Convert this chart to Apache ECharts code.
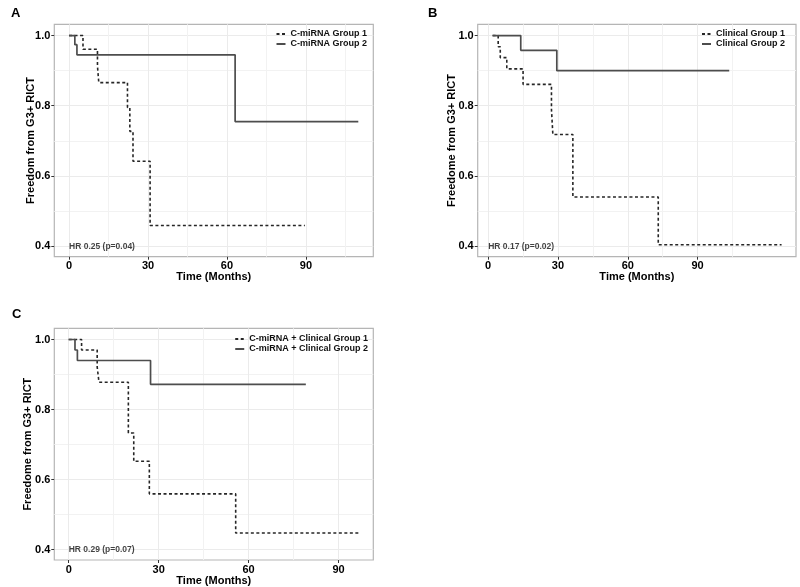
<!DOCTYPE html>
<html><head><meta charset="utf-8">
<script src="https://cdn.jsdelivr.net/npm/echarts@6/dist/echarts.min.js"></script>
<style>html,body{margin:0;padding:0;background:#fff}#c{width:800px;height:587px}</style>
</head><body><div id="c"></div>
<script>
// ---- data ----
const aG1Time = [0, 5.3, 10.8, 11.3, 22.2, 23.1, 24.3, 30.8, 89.6];
const aG1Surv = [1, 0.961, 0.913, 0.866, 0.795, 0.727, 0.642, 0.459, 0.459];
const aG2Time = [0, 2.2, 3.0, 63.1, 109.9];
const aG2Surv = [1, 0.974, 0.945, 0.755, 0.755];

const bG1Time = [1.9, 4.3, 5.2, 8.0, 15.0, 27.2, 27.8, 36.4, 73.1, 126.1];
const bG1Surv = [1, 0.968, 0.937, 0.905, 0.861, 0.79, 0.718, 0.54, 0.404, 0.404];
const bG2Time = [1.9, 14.0, 29.5, 103.6];
const bG2Surv = [1, 0.958, 0.90, 0.90];

const cG1Time = [0, 4.3, 9.5, 10.1, 19.9, 21.7, 26.9, 55.7, 96.8];
const cG1Surv = [1, 0.97, 0.922, 0.878, 0.733, 0.652, 0.559, 0.447, 0.447];
const cG2Time = [0, 2.1, 2.9, 27.3, 79.1];
const cG2Surv = [1, 0.97, 0.94, 0.872, 0.872];

const panelLabels = ['A', 'B', 'C'];
const seriesNames = [
  ['C-miRNA Group 1', 'C-miRNA Group 2'],
  ['Clinical Group 1', 'Clinical Group 2'],
  ['C-miRNA + Clinical Group 1', 'C-miRNA + Clinical Group 2']
];
const hrTexts = ['HR 0.25 (p=0.04)', 'HR 0.17 (p=0.02)', 'HR 0.29 (p=0.07)'];
const yNames = ['Freedom from G3+ RICT', 'Freedome from G3+ RICT', 'Freedome from G3+ RICT'];
const xName = 'Time (Months)';
const xTicks = [0, 30, 60, 90];
const xMinor = [15, 45, 75, 105];
const yTicks = [0.4, 0.6, 0.8, 1.0];
const yMinor = [0.5, 0.7, 0.9];

// ---- layout ----
const FONT = 'Liberation Sans, Arial, sans-serif';
const grids = [
  {left: 54.3, top: 24.3, width: 319, height: 232.4},
  {left: 477.7, top: 24.3, width: 318.3, height: 232.4},
  {left: 54.3, top: 328.3, width: 319, height: 232.4}
];
const xRanges = [[-5.6, 115.6], [-4.5, 132.3], [-4.8, 101.6]];
const yRange = [0.37, 1.032];
const yNameGaps = [18, 20, 21];
const legendPos = [
  {right: 433, top: 29.5},
  {right: 15, top: 29.5},
  {right: 432, top: 334.5}
];
const curves = [
  [[aG1Time, aG1Surv], [aG2Time, aG2Surv]],
  [[bG1Time, bG1Surv], [bG2Time, bG2Surv]],
  [[cG1Time, cG1Surv], [cG2Time, cG2Surv]]
];

const zip = (t, s) => t.map((v, i) => [v, s[i]]);

const option = {
  animation: false,
  backgroundColor: '#fff',
  textStyle: {fontFamily: FONT},
  grid: grids.map(g => Object.assign({show: true, borderColor: '#b5b5b5', borderWidth: 1.2, backgroundColor: 'transparent'}, g)),
  title: panelLabels.map((t, i) => ({
    text: t, left: [6, 423, 7][i], top: [2, 2, 303][i],
    textStyle: {fontSize: 13, fontWeight: 'bold', color: '#000', fontFamily: FONT}
  })),
  xAxis: [], yAxis: [], series: [], legend: []
};

for (let p = 0; p < 3; p++) {
  option.xAxis.push({
    type: 'value', gridIndex: p, min: xRanges[p][0], max: xRanges[p][1],
    name: xName, nameLocation: 'middle', nameGap: 15, nameMoveOverlap: false,
    nameTextStyle: {fontSize: 11, fontWeight: 'bold', color: '#000', fontFamily: FONT},
    axisLine: {show: false, onZero: false},
    axisTick: {show: true, length: 3, lineStyle: {color: '#333'}, customValues: xTicks},
    axisLabel: {show: true, fontSize: 11, fontWeight: 'bold', color: '#000', margin: 4, customValues: xTicks, fontFamily: FONT},
    splitLine: {show: true, lineStyle: {color: '#ebebeb', width: 1}}
  });
  option.xAxis.push({
    type: 'value', gridIndex: p, min: xRanges[p][0], max: xRanges[p][1],
    axisLine: {show: false, onZero: false},
    axisTick: {show: false, customValues: xMinor},
    axisLabel: {show: false, customValues: xMinor},
    splitLine: {show: true, lineStyle: {color: '#f2f2f2', width: 1}}
  });
  option.yAxis.push({
    type: 'value', gridIndex: p, min: yRange[0], max: yRange[1],
    name: yNames[p], nameLocation: 'middle', nameGap: yNameGaps[p], nameRotate: 90, nameMoveOverlap: false,
    nameTextStyle: {fontSize: 11, fontWeight: 'bold', color: '#000', fontFamily: FONT},
    axisLine: {show: false, onZero: false},
    axisTick: {show: true, length: 3, lineStyle: {color: '#333'}, customValues: yTicks},
    axisLabel: {show: true, fontSize: 11, fontWeight: 'bold', color: '#000', margin: 4,
      customValues: yTicks, formatter: v => v.toFixed(1), fontFamily: FONT},
    splitLine: {show: true, lineStyle: {color: '#ebebeb', width: 1}}
  });
  option.yAxis.push({
    type: 'value', gridIndex: p, min: yRange[0], max: yRange[1],
    axisLine: {show: false, onZero: false},
    axisTick: {show: false, customValues: yMinor},
    axisLabel: {show: false, customValues: yMinor},
    splitLine: {show: true, lineStyle: {color: '#f2f2f2', width: 1}}
  });
  const xi = p * 2, yi = p * 2;
  option.series.push({
    name: seriesNames[p][0], type: 'line', step: 'end', xAxisIndex: xi, yAxisIndex: yi,
    data: zip(curves[p][0][0], curves[p][0][1]), symbol: 'none', z: 3,
    lineStyle: {color: '#262626', width: 1.6, type: [3, 2.5]},
    itemStyle: {color: '#262626'}
  });
  option.series.push({
    name: seriesNames[p][1], type: 'line', step: 'end', xAxisIndex: xi, yAxisIndex: yi,
    data: zip(curves[p][1][0], curves[p][1][1]), symbol: 'none', z: 3,
    lineStyle: {color: '#4d4d4d', width: 1.7, type: 'solid'},
    itemStyle: {color: '#4d4d4d'}
  });
  option.series.push({
    type: 'scatter', xAxisIndex: xi, yAxisIndex: yi, symbolSize: 0, silent: true,
    data: [[0, 0.4]],
    label: {show: true, position: 'right', distance: 0, formatter: hrTexts[p],
      fontSize: 8.5, fontWeight: 'bold', color: '#111', fontFamily: FONT}
  });
  option.legend.push(Object.assign({
    orient: 'vertical', data: seriesNames[p], itemWidth: 9, itemHeight: 6, itemGap: 1,
    padding: 0, selectedMode: false,
    itemStyle: {opacity: 0},
    textStyle: {fontSize: 9, fontWeight: 'bold', color: '#111', lineHeight: 9, fontFamily: FONT}
  }, legendPos[p]));
}

const chart = echarts.init(document.getElementById('c'), null, {renderer: 'canvas'});
chart.setOption(option);
</script></body></html>
